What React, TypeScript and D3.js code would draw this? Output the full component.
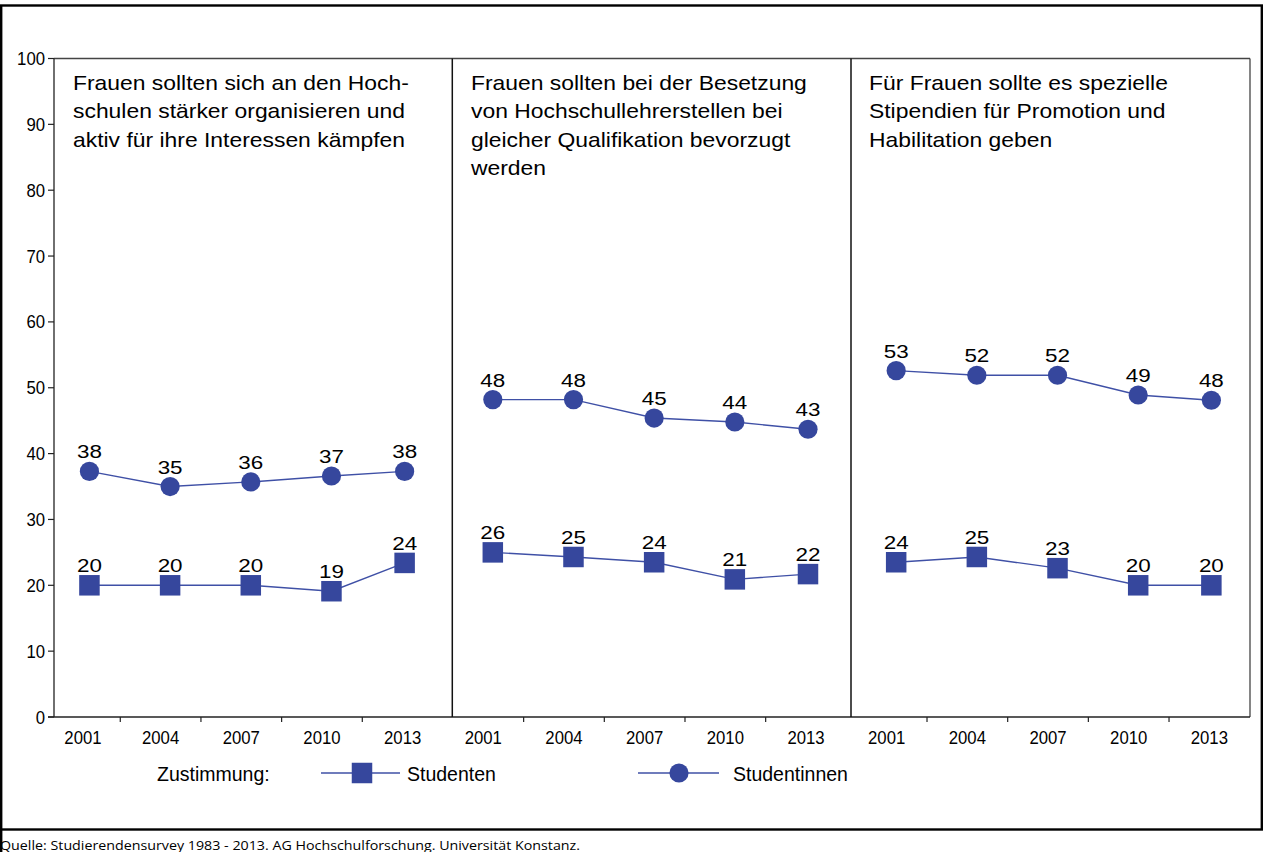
import React from 'react';
import * as d3 from 'd3';

// ---------- data ----------
const years = ['2001', '2004', '2007', '2010', '2013'];
const panelTitles: string[][] = [
  ['Frauen sollten sich an den Hoch-', 'schulen stärker organisieren und', 'aktiv für ihre Interessen kämpfen'],
  ['Frauen sollten bei der Besetzung', 'von Hochschullehrerstellen bei', 'gleicher Qualifikation bevorzugt', 'werden'],
  ['Für Frauen sollte es spezielle', 'Stipendien für Promotion und', 'Habilitation geben'],
];
// plotted positions (as drawn) and printed labels
const studentinnenValues = [
  [37.3, 35.0, 35.7, 36.6, 37.3],
  [48.2, 48.2, 45.4, 44.8, 43.7],
  [52.6, 51.9, 51.9, 48.9, 48.1],
];
const studentinnenLabels = [
  [38, 35, 36, 37, 38],
  [48, 48, 45, 44, 43],
  [53, 52, 52, 49, 48],
];
const studentenValues = [
  [20.0, 20.0, 20.0, 19.1, 23.4],
  [25.0, 24.3, 23.5, 20.9, 21.7],
  [23.5, 24.3, 22.6, 20.0, 20.0],
];
const studentenLabels = [
  [20, 20, 20, 19, 24],
  [26, 25, 24, 21, 22],
  [24, 25, 23, 20, 20],
];
const yTicks = [0, 10, 20, 30, 40, 50, 60, 70, 80, 90, 100];
const legendTitle = 'Zustimmung:';
const seriesNames = ['Studenten', 'Studentinnen'];
const sourceText = 'Quelle: Studierendensurvey 1983 - 2013. AG Hochschulforschung. Universität Konstanz.';

// ---------- layout ----------
const W = 1264;
const H = 852;
const plotLeft = 54;
const plotRight = 1250;
const plotTop = 58.5;
const plotBottom = 717;
const bandStart = 39.6;
const bandEnd = 1249.7;
const dividers = [452.3, 851];
const titleX = [73, 471, 869];
const FONT = 'Liberation Sans, Arial, Helvetica, sans-serif';
const markerColor = '#36479d';
const lineColor = '#3f50a6';

const keys = panelTitles.flatMap((_, p) => years.map((y) => `${p}-${y}`));
const xBand = d3.scaleBand<string>().domain(keys).range([bandStart, bandEnd]).padding(0);
const y = d3.scaleLinear().domain([0, 100]).range([plotBottom, plotTop]);
const bw = xBand.bandwidth();
const center = (p: number, i: number) => (xBand(`${p}-${years[i]}`) as number) + bw / 2;
const pointScale = (p: number) =>
  d3.scaleLinear().domain([0, 3, 4]).range([center(p, 0) + 9.5, center(p, 3) + 9.5, center(p, 4) + 2]);

const T = ({ x, yy, size, sx = 1, anchor = 'start', fill = '#000', children, family = FONT }: any) => (
  <text
    transform={`translate(${x},${yy}) scale(${sx},1)`}
    fontSize={size}
    fontFamily={family}
    textAnchor={anchor}
    fill={fill}
  >
    {children}
  </text>
);

const Square = ({ cx, cy, s = 20.5 }: any) => <rect x={cx - s / 2} y={cy - s / 2} width={s} height={s} fill={markerColor} />;
const Dot = ({ cx, cy, r = 9.6 }: any) => <circle cx={cx} cy={cy} r={r} fill={markerColor} />;

export default function App() {
  const line = d3.line<[number, number]>().x((d) => d[0]).y((d) => d[1]);
  return (
    <svg
      width={W}
      height={H}
      viewBox={`0 0 ${W} ${H}`}
      style={{ position: 'absolute', left: 0, top: 0, display: 'block', background: '#fff' }}
    >
      <rect x={0} y={0} width={W} height={H} fill="#fff" />
      {/* outer frame */}
      <rect x={1.2} y={5.5} width={1260.6} height={824} fill="none" stroke="#000" strokeWidth={2.4} />
      <line x1={1.2} y1={830} x2={1.2} y2={H} stroke="#000" strokeWidth={2.4} />

      {/* plot frame */}
      <line x1={plotLeft} y1={plotTop} x2={plotRight} y2={plotTop} stroke="#444" strokeWidth={1.3} />
      <line x1={plotRight} y1={plotTop} x2={plotRight} y2={plotBottom} stroke="#444" strokeWidth={1.3} />
      <line x1={plotLeft} y1={plotTop} x2={plotLeft} y2={plotBottom} stroke="#222" strokeWidth={1.3} />
      <line x1={plotLeft - 6} y1={plotBottom} x2={plotRight} y2={plotBottom} stroke="#222" strokeWidth={1.3} />
      {dividers.map((d, i) => (
        <line key={i} x1={d} y1={plotTop} x2={d} y2={plotBottom} stroke="#111" strokeWidth={1.5} />
      ))}

      {/* y axis */}
      {yTicks.map((t) => (
        <g key={t}>
          <line x1={plotLeft - 6} y1={y(t)} x2={plotLeft} y2={y(t)} stroke="#222" strokeWidth={1.2} />
          <T x={plotLeft - 9} yy={y(t) + 6.5} size={18} sx={0.93} anchor="end">
            {t}
          </T>
        </g>
      ))}

      {/* x axis */}
      {panelTitles.map((_, p) =>
        years.map((yr, i) => {
          const bx = xBand(`${p}-${yr}`) as number;
          return (
            <g key={`${p}-${yr}`}>
              {i > 0 && <line x1={bx} y1={plotBottom} x2={bx} y2={plotBottom + 5} stroke="#222" strokeWidth={1.2} />}
              <T x={bx + bw / 2 + (p === 0 && i === 0 ? 3 : 0)} yy={743.5} size={18} sx={0.93} anchor="middle">
                {yr}
              </T>
            </g>
          );
        })
      )}

      {/* titles */}
      {panelTitles.map((lines, p) =>
        lines.map((l, k) => (
          <T key={`${p}-${k}`} x={titleX[p]} yy={89.5 + k * 28.5} size={20} sx={1.145}>
            {l}
          </T>
        ))
      )}

      {/* series */}
      {panelTitles.map((_, p) => {
        const xs = pointScale(p);
        const mPts = studentenValues[p].map((v, i) => [xs(i), y(v)] as [number, number]);
        const fPts = studentinnenValues[p].map((v, i) => [xs(i), y(v)] as [number, number]);
        return (
          <g key={p}>
            <path d={line(mPts) as string} fill="none" stroke={lineColor} strokeWidth={1.4} />
            <path d={line(fPts) as string} fill="none" stroke={lineColor} strokeWidth={1.4} />
            {mPts.map(([cx, cy], i) => (
              <g key={`m${i}`}>
                <Square cx={cx} cy={cy} />
                <T x={cx} yy={cy - 13} size={19} sx={1.18} anchor="middle">
                  {studentenLabels[p][i]}
                </T>
              </g>
            ))}
            {fPts.map(([cx, cy], i) => (
              <g key={`f${i}`}>
                <Dot cx={cx} cy={cy} />
                <T x={cx} yy={cy - 13} size={19} sx={1.18} anchor="middle">
                  {studentinnenLabels[p][i]}
                </T>
              </g>
            ))}
          </g>
        );
      })}

      {/* legend */}
      <T x={157} yy={780.5} size={19.5}>
        {legendTitle}
      </T>
      <line x1={321} y1={773} x2={400} y2={773} stroke={lineColor} strokeWidth={1.4} />
      <Square cx={362} cy={773} />
      <T x={407} yy={780.5} size={19.5}>
        {seriesNames[0]}
      </T>
      <line x1={638} y1={773} x2={719} y2={773} stroke={lineColor} strokeWidth={1.4} />
      <Dot cx={679} cy={773} />
      <T x={733} yy={780.5} size={19.5}>
        {seriesNames[1]}
      </T>

      {/* source */}
      <text x={0} y={850} fontSize={13.5} fontFamily="'Open Sans', 'Noto Sans', sans-serif" fill="#000" textLength={580} lengthAdjust="spacingAndGlyphs">
        {sourceText}
      </text>
    </svg>
  );
}
